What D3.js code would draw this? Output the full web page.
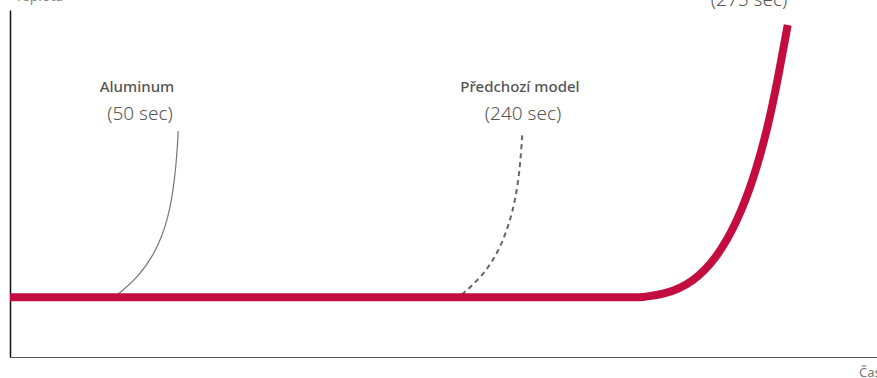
<!DOCTYPE html>
<html>
<head>
<meta charset="utf-8">
<script src="https://cdn.jsdelivr.net/npm/d3@7"></script>
<style>
  html, body { margin: 0; padding: 0; background: #fff; }
  svg { display: block; font-family: "Noto Sans", "Open Sans", sans-serif; }
</style>
</head>
<body>
<svg id="chart" width="877" height="378"></svg>
<script>
// ---- data (illustrative units 0..100) ----
// flat part of the new model (start, end of plateau)
const newModelFlatX = [0, 72.5];
const newModelFlatY = [17.2, 17.2];
// rising part of the new model
const newModelX = [72.5, 75.5, 78.8, 81.5, 83.8, 85.8, 87.4, 88.6, 89.7];
const newModelY = [17.2, 17.9, 21.5, 28.5, 38.5, 51.5, 66.0, 80.5, 95.7];

const aluminumX = [12.1, 14.6, 16.8, 18.3, 19.0, 19.3, 19.4];
const aluminumY = [17.4, 22.5, 30.0, 40.0, 51.0, 60.0, 65.1];

const previousX = [52.1, 54.4, 56.3, 57.7, 58.5, 58.9, 59.1];
const previousY = [18.0, 23.0, 30.0, 39.0, 48.0, 57.0, 64.6];

const seriesNames = ["Aluminum", "Předchozí model"];
const seriesTimes = ["(50 sec)", "(240 sec)", "(275 sec)"];
const yAxisTitle = "Teplota";
const xAxisTitle = "Čas";

// ---- layout ----
const svg = d3.select("#chart");
const x = d3.scaleLinear().domain([0, 100]).range([10, 877]);
const y = d3.scaleLinear().domain([0, 100]).range([357, 10]);

const zip = (xs, ys) => xs.map((v, i) => [v, ys[i]]);
const curveLine = d3.line().x(d => x(d[0])).y(d => y(d[1])).curve(d3.curveBasis);
const straight = d3.line().x(d => x(d[0])).y(d => y(d[1]));

// axes
const xAxis = svg.append("g").attr("transform", `translate(0,${y(0)})`)
  .call(d3.axisBottom(x).tickValues([]).tickSizeOuter(0));
xAxis.select(".domain").attr("stroke", "#555").attr("stroke-width", 1.2);

const yAxis = svg.append("g").attr("transform", `translate(${x(0)},0)`)
  .call(d3.axisLeft(y).tickValues([]).tickSizeOuter(0));
yAxis.select(".domain").attr("stroke", "#111").attr("stroke-width", 1.5);

// aluminum curve
svg.append("path").datum(zip(aluminumX, aluminumY))
  .attr("d", curveLine).attr("fill", "none")
  .attr("stroke", "#777").attr("stroke-width", 1.2);

// previous model curve (dashed)
svg.append("path").datum(zip(previousX, previousY))
  .attr("d", curveLine).attr("fill", "none")
  .attr("stroke", "#666").attr("stroke-width", 2)
  .attr("stroke-dasharray", "5,4");

// new model curve: straight plateau + smooth rise
const flatD = straight(zip(newModelFlatX, newModelFlatY));
const riseD = curveLine(zip(newModelX, newModelY));
svg.append("path")
  .attr("d", flatD + "L" + riseD.slice(1))
  .attr("fill", "none")
  .attr("stroke", "#c30d3f").attr("stroke-width", 8)
  .attr("stroke-linejoin", "round");

// labels
function label(cx, nameY, timeY, name, time) {
  if (name) svg.append("text").attr("x", cx).attr("y", nameY)
    .attr("text-anchor", "middle").attr("fill", "#555")
    .attr("font-size", 15).attr("font-weight", 500).text(name);
  svg.append("text").attr("x", cx + 3).attr("y", timeY)
    .attr("text-anchor", "middle").attr("fill", "#555")
    .attr("font-size", 19).attr("font-weight", 300).text(time);
}
label(137, 92, 120, seriesNames[0], seriesTimes[0]);
label(520, 92, 120, seriesNames[1], seriesTimes[1]);
label(746, null, 6, null, seriesTimes[2]);

svg.append("text").attr("x", 15).attr("y", 1).attr("fill", "#888")
  .attr("font-size", 14).text(yAxisTitle);
svg.append("text").attr("x", 859).attr("y", 377).attr("fill", "#777")
  .attr("font-size", 13).text(xAxisTitle);
</script>
</body>
</html>
